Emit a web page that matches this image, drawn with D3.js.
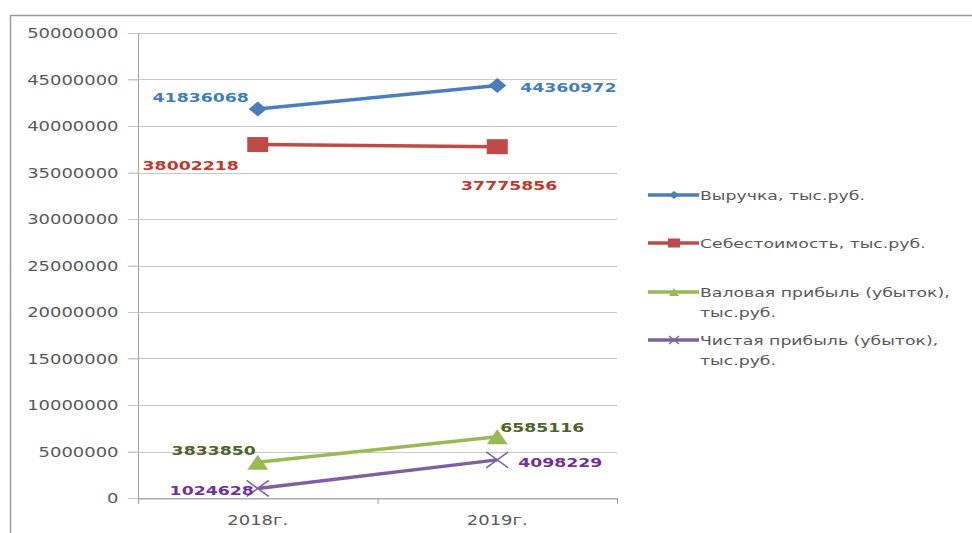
<!DOCTYPE html>
<html><head><meta charset="utf-8">
<script src="https://cdn.jsdelivr.net/npm/d3@7/dist/d3.min.js"></script>
<style>body{margin:0;background:#fff;}svg{display:block;}</style>
</head><body>
<svg id="c" width="972" height="533"></svg>
<script>
const categories = ["2018г.", "2019г."];
const revenue = [41836068, 44360972];
const cost = [38002218, 37775856];
const grossProfit = [3833850, 6585116];
const netProfit = [1024628, 4098229];
const yTicks = [0, 5000000, 10000000, 15000000, 20000000, 25000000, 30000000, 35000000, 40000000, 45000000, 50000000];
const seriesNames = ["Выручка, тыс.руб.", "Себестоимость, тыс.руб.", "Валовая прибыль (убыток),\nтыс.руб.", "Чистая прибыль (убыток),\nтыс.руб."];

const series = [
  {name: seriesNames[0], values: revenue, color: "#4A7EBB", label: "#3F7FC0", marker: "diamond",
   lab: [{dx:-9, dy:-7, anchor:"end"}, {dx:23, dy:7, anchor:"start"}]},
  {name: seriesNames[1], values: cost, color: "#BE4B48", label: "#C0392B", marker: "square",
   lab: [{dx:-19, dy:25, anchor:"end"}, {dx:60, dy:43, anchor:"end"}]},
  {name: seriesNames[2], values: grossProfit, color: "#98B954", label: "#4F6228", marker: "triangle",
   lab: [{dx:-2, dy:-7, anchor:"end"}, {dx:3, dy:-5, anchor:"start"}]},
  {name: seriesNames[3], values: netProfit, color: "#7D60A0", label: "#7030A0", marker: "x",
   lab: [{dx:-4, dy:6.5, anchor:"end"}, {dx:21, dy:7, anchor:"start"}]}
];

const svg = d3.select("#c");
const font = "'DejaVu Sans', Verdana, sans-serif";
const SX = 1.33; // horizontal stretch of the original picture

function stext(g, x, y, str, opts) {
  const t = g.append("text")
    .attr("transform", `translate(${x},${y}) scale(${opts.sx || SX},1)`)
    .attr("text-anchor", opts.anchor || "start")
    .attr("font-family", font).attr("font-size", opts.size || 13)
    .attr("font-weight", opts.weight || "normal")
    .attr("fill", opts.fill || "#595959").text(str);
  return t;
}

// frame
svg.append("line").attr("x1",10).attr("x2",972).attr("y1",15.5).attr("y2",15.5).attr("stroke","#9a9a9a").attr("stroke-width",1.5);
svg.append("line").attr("x1",10.5).attr("x2",10.5).attr("y1",15).attr("y2",533).attr("stroke","#9a9a9a").attr("stroke-width",1.5);

const plot = {left:138, right:617, top:33, bottom:498};
const x = d3.scaleBand().domain(categories).range([plot.left, plot.right]);
const y = d3.scaleLinear().domain([0, 50000000]).range([plot.bottom, plot.top]);

// gridlines
svg.append("g").selectAll("line").data(yTicks).join("line")
  .attr("x1", plot.left-10).attr("x2", plot.right)
  .attr("y1", d => Math.round(y(d))+0.5).attr("y2", d => Math.round(y(d))+0.5)
  .attr("stroke", "#c8c8c8").attr("stroke-width", 1.2);

// y axis
const yAxis = svg.append("g").attr("transform", `translate(${plot.left+0.5},0)`)
  .call(d3.axisLeft(y).tickValues(yTicks).tickFormat(d3.format("d")).tickSize(10).tickPadding(10));
yAxis.select(".domain").attr("stroke", "#a0a0a0").attr("d", `M0,${plot.top}V${plot.bottom}`);
yAxis.selectAll(".tick line").attr("stroke", "#c8c8c8");
yAxis.selectAll(".tick text")
  .attr("x", null).attr("dy", "0.36em")
  .attr("transform", `translate(-20,0) scale(${SX},1)`)
  .attr("font-family", font).attr("font-size", 13.5).attr("fill", "#595959");

// x axis
const xAxis = svg.append("g").attr("transform", `translate(0,${plot.bottom+0.5})`)
  .call(d3.axisBottom(x).tickSize(0).tickPadding(16));
xAxis.select(".domain").attr("stroke", "#a0a0a0");
xAxis.selectAll(".tick text")
  .attr("y", null).attr("dy", null)
  .attr("transform", `translate(0,26.5) scale(${SX},1)`)
  .attr("font-family", font).attr("font-size", 13.5).attr("fill", "#595959");
// category separators
svg.append("g").selectAll("line").data([plot.left, x(categories[1]), plot.right]).join("line")
  .attr("x1", d=>d+0.5).attr("x2", d=>d+0.5).attr("y1", plot.bottom).attr("y2", plot.bottom+6)
  .attr("stroke", "#a0a0a0");

const cx = c => x(c) + x.bandwidth()/2;
const line = d3.line().x((d,i) => cx(categories[i])).y(d => y(d));

function drawMarker(g, type, color, px, py, w, h) {
  if (type === "diamond") {
    g.append("path").attr("d", `M${px},${py-h}L${px+w},${py}L${px},${py+h}L${px-w},${py}Z`).attr("fill", color);
  } else if (type === "square") {
    g.append("rect").attr("x", px-w).attr("y", py-h).attr("width", 2*w).attr("height", 2*h).attr("fill", color);
  } else if (type === "triangle") {
    g.append("path").attr("d", `M${px},${py-h}L${px+w},${py+h}L${px-w},${py+h}Z`).attr("fill", color);
  } else {
    g.append("path").attr("d", `M${px-w},${py-h}L${px+w},${py+h}M${px-w},${py+h}L${px+w},${py-h}`)
      .attr("stroke", color).attr("stroke-width", 1.5).attr("fill", "none");
  }
}
const markerSize = {diamond: [9, 7.5], square: [10.5, 7.5], triangle: [10.5, 7.5], x: [11, 8]};

const gS = svg.append("g");
series.forEach(s => {
  gS.append("path").datum(s.values).attr("d", line).attr("fill", "none")
    .attr("stroke", s.color).attr("stroke-width", 3.5);
  s.values.forEach((v, i) => {
    const m = markerSize[s.marker];
    drawMarker(gS, s.marker, s.color, cx(categories[i]), y(v), m[0], m[1]);
  });
});
series.forEach(s => {
  s.values.forEach((v, i) => {
    const o = s.lab[i];
    stext(gS, cx(categories[i]) + o.dx, y(v) + o.dy, d3.format("d")(v),
      {anchor: o.anchor, size: 13, weight: "bold", fill: s.label, sx: 1.33});
  });
});

// legend
const legendY = [195, 243, 292, 340];
const lg = svg.append("g");
series.forEach((s, i) => {
  const ly = legendY[i];
  lg.append("line").attr("x1", 648).attr("x2", 699).attr("y1", ly).attr("y2", ly)
    .attr("stroke", s.color).attr("stroke-width", 3.5);
  const ms = {diamond: [5, 4], square: [6, 4.5], triangle: [5, 4], x: [5, 4]}[s.marker];
  drawMarker(lg, s.marker, s.color, 674, ly, ms[0], ms[1]);
  s.name.split("\n").forEach((ln, j) => {
    stext(lg, 700, ly + 5 + j*19.5, ln, {size: 13, fill: "#595959", sx: 1.33});
  });
});
</script>
</body></html>
